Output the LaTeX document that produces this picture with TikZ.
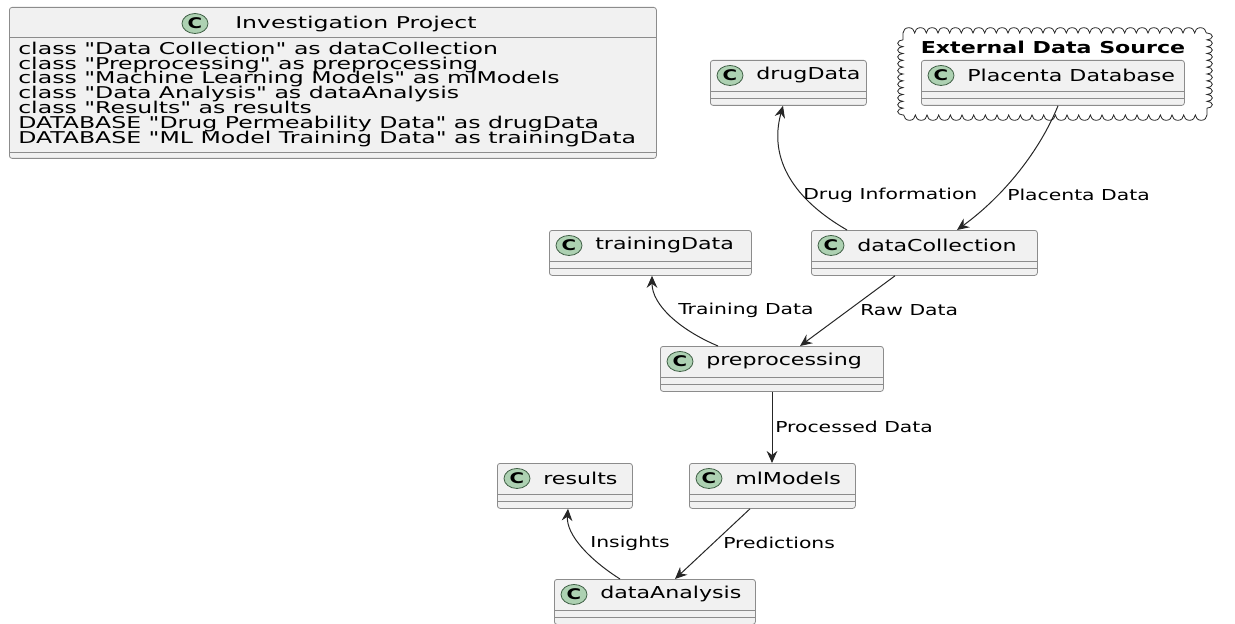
\documentclass[tikz,border=0pt]{standalone}
\usepackage{fontspec}
\usepackage{xcolor}
\newfontfamily\umlfont[FakeStretch=1.35, Ligatures=TeXOff]{DejaVu Sans}
\newfontfamily\notefont[FakeStretch=1.45, Ligatures=TeXOff]{DejaVu Sans}
\usetikzlibrary{arrows.meta, shapes.geometric, decorations.pathmorphing}

\definecolor{boxfill}{HTML}{F1F1F1}
\definecolor{boxedge}{HTML}{8C8C8C}
\definecolor{edgegray}{HTML}{262626}
\definecolor{spotfill}{HTML}{ADD1B2}
\definecolor{spotedge}{HTML}{3F5F45}

\tikzset{
  classbox/.style={draw=boxedge, fill=boxfill, rounded corners=2pt, line width=0.6pt,
                   minimum height=33.75pt, inner sep=0pt, anchor=north west},
  sepline/.style={draw=boxedge, line width=0.6pt},
  spot/.style={ellipse, draw=spotedge, fill=spotfill, line width=0.6pt, inner sep=0pt,
               minimum width=19.5pt, minimum height=15pt,
               font=\umlfont\bfseries\fontsize{11}{12}\selectfont},
  classname/.style={anchor=west, inner sep=0pt, font=\umlfont\fontsize{12.3}{14}\selectfont},
  lbl/.style={anchor=west, inner sep=0pt, font=\umlfont\fontsize{11.3}{13}\selectfont},
  notetxt/.style={anchor=base west, inner sep=0pt, font=\notefont\fontsize{12.2}{13}\selectfont},
  flow/.style={draw=edgegray, line width=0.75pt,
               -{Stealth[length=9pt, width=8pt, inset=3pt]}},
  bumpy/.style={draw=edgegray, line width=0.6pt, decorate,
                decoration={bumps, amplitude=4pt, segment length=#1}}
}

\begin{document}
\begin{tikzpicture}[x=0.75pt, y=-0.75pt]
  \useasboundingbox (0,0) rectangle (1235,624);

  % Project note
  \node [classbox, minimum width=485.25pt, minimum height=113.25pt] (projBox) at (9,7) {};
  \draw [sepline] ([yshift=-22.5pt]projBox.north west) -- ([yshift=-22.5pt]projBox.north east);
  \draw [sepline] ([yshift=-108.75pt]projBox.north west) -- ([yshift=-108.75pt]projBox.north east);
  \node [spot] (projBox-c) at (195,23.5) {C};
  \node [notetxt] (projBox-t) at (235,29) {Investigation Project};
  \foreach \i/\s in {0/{class "Data Collection" as dataCollection},
                     1/{class "Preprocessing" as preprocessing},
                     2/{class "Machine Learning Models" as mlModels},
                     3/{class "Data Analysis" as dataAnalysis},
                     4/{class "Results" as results},
                     5/{DATABASE "Drug Permeability Data" as drugData},
                     6/{DATABASE "ML Model Training Data" as trainingData}}
    \node [notetxt] (projBox-\i) at (18,54.3+14.8*\i) {\s};

  % External source
  \draw [bumpy=17.5pt] (903,33) -- (1207,33);
  \draw [bumpy=10.25pt] (1207,33) -- (1207,115);
  \draw [bumpy=17.5pt] (1207,115) -- (903,115);
  \draw [bumpy=10.25pt] (903,115) -- (903,33);
  \node [inner sep=0pt, font=\umlfont\bfseries\fontsize{12.3}{14}\selectfont] (extTitle) at (1053,47)
    {External Data Source};

  % Classes
  \foreach \n/\x/\y/\w/\t in {drugData/710/60/117/drugData,
                              placenta/921/60/197.25/Placenta Database,
                              trainingData/549/230/151.5/trainingData,
                              dataCollection/811/230/169.5/dataCollection,
                              preprocessing/660/346/167.25/preprocessing,
                              results/497/463/101.25/results,
                              mlModels/689/463/124.5/mlModels,
                              dataAnalysis/554/579/150.75/dataAnalysis} {
    \node [classbox, minimum width=\w pt] (\n) at (\x,\y) {};
    \draw [sepline] ([yshift=-23.25pt]\n.north west) -- ([yshift=-23.25pt]\n.north east);
    \draw [sepline] ([yshift=-28.5pt]\n.north west) -- ([yshift=-28.5pt]\n.north east);
    \node [spot] (\n-c) at ([xshift=15pt, yshift=-11.6pt]\n.north west) {C};
    \node [classname] (\n-t) at ([xshift=34.5pt, yshift=-11.6pt]\n.north west) {\t};
  }

  % Links
  \draw [flow] ([xshift=27pt]dataCollection.north west) .. controls (795,200) and (768,160) ..
               ([xshift=54.75pt]drugData.south west);
  \draw [flow] ([xshift=102.75pt]placenta.south west) .. controls (1040,150) and (1005,195) ..
               ([xshift=109.5pt]dataCollection.north west);
  \draw [flow] ([xshift=43.5pt]preprocessing.north west) .. controls (680,330) and (652,305) ..
               ([xshift=77.25pt]trainingData.south west);
  \draw [flow] ([xshift=63pt]dataCollection.south west) -- ([xshift=105pt]preprocessing.north west);
  \draw [flow] ([xshift=84pt]preprocessing.south west) -- ([xshift=62.25pt]mlModels.north west);
  \draw [flow] ([xshift=45.75pt]mlModels.south west) -- ([xshift=90.75pt]dataAnalysis.north west);
  \draw [flow] ([xshift=49.5pt]dataAnalysis.north west) .. controls (590,560) and (566,535) ..
               ([xshift=53.25pt]results.south west);

  % Link labels
  \node [lbl] (lDrug)  at (803,195) {Drug Information};
  \node [lbl] (lPlac)  at (1007,195) {Placenta Data};
  \node [lbl] (lTrain) at (678,310) {Training Data};
  \node [lbl] (lRaw)   at (860,310) {Raw Data};
  \node [lbl] (lProc)  at (775,427) {Processed Data};
  \node [lbl] (lPred)  at (723,543) {Predictions};
  \node [lbl] (lIns)   at (590,543) {Insights};
\end{tikzpicture}
\end{document}
